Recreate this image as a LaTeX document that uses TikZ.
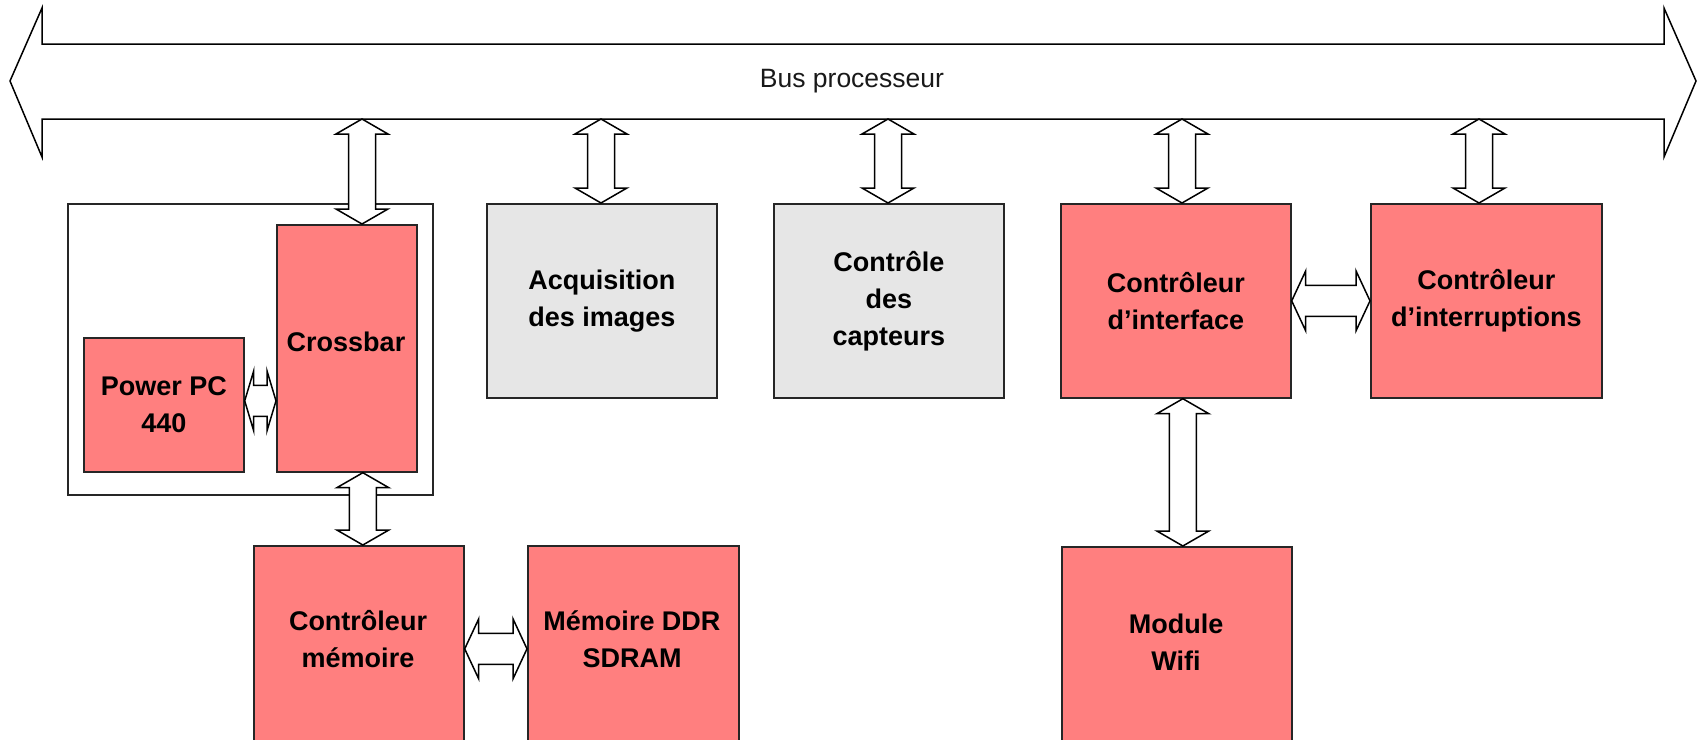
\documentclass[tikz,border=0pt]{standalone}
\usepackage{fontspec}
\setmainfont{Liberation Sans}
\usetikzlibrary{calc}
\definecolor{redc}{HTML}{FF7F7F}
\definecolor{grayc}{HTML}{E6E6E6}
\newcommand\boxfont{\bfseries\fontsize{27}{37}\selectfont}
% vertical double block arrow between two points with the same x (top, bottom)
\newcommand\vbarrow[2]{%
  \draw[blockarrow] let \p1=#1, \p2=#2 in
    (\x1,\y1) -- (\x1+26pt,\y1-15pt) -- (\x1+13.5pt,\y1-15pt) -- (\x1+13.5pt,\y2+15pt)
    -- (\x1+26pt,\y2+15pt) -- (\x1,\y2) -- (\x1-26pt,\y2+15pt) -- (\x1-13.5pt,\y2+15pt)
    -- (\x1-13.5pt,\y1-15pt) -- (\x1-26pt,\y1-15pt) -- cycle;}
% horizontal double block arrow: head length, left point, right point
\newcommand\hbarrow[3]{%
  \draw[blockarrow] let \p1=#2, \p2=#3 in
    (\x1,\y1) -- (\x1+#1,\y1+30pt) -- (\x1+#1,\y1+15.5pt) -- (\x2-#1,\y1+15.5pt)
    -- (\x2-#1,\y1+30pt) -- (\x2,\y1) -- (\x2-#1,\y1-30pt) -- (\x2-#1,\y1-15.5pt)
    -- (\x1+#1,\y1-15.5pt) -- (\x1+#1,\y1-30pt) -- cycle;}
\tikzset{
  basebox/.style={draw=black!85, line width=1.7pt, anchor=north west, inner sep=0pt,
    align=center, font=\boxfont, text=black},
  redbox/.style={basebox, fill=redc},
  graybox/.style={basebox, fill=grayc},
  boxtext/.style={align=center, font=\boxfont, inner sep=0pt, text=black},
  blockarrow/.style={draw=black, line width=1.5pt, fill=white, line join=miter},
  framebox/.style={draw=black!85, line width=1.8pt, anchor=north west, inner sep=0pt},
  busstyle/.style={draw=black, line width=1.5pt, fill=white, line join=miter}
}
\begin{document}
\begin{tikzpicture}[x=1pt,y=-1pt]
\useasboundingbox (0,0) rectangle (1699,739);
\fill[white] (0,0) rectangle (1699,739);

% processor bus
\draw[busstyle] (10,81) -- (42,8) -- (42,44) -- (1664,44) -- (1664,8) -- (1696,81)
  -- (1664,157) -- (1664,119) -- (42,119) -- (42,157) -- cycle;
\node[font=\fontsize{26.5}{30}\selectfont, inner sep=0pt, text=black!90] (bus) at (852,81) {Bus processeur};
\coordinate (b1) at (362,119);
\coordinate (b2) at (601,119);
\coordinate (b3) at (888,119);
\coordinate (b4) at (1182,119);
\coordinate (b5) at (1479,119);

% blocks
\node[framebox, minimum width=365, minimum height=291] (frame) at (67,203) {};
\node[redbox, minimum width=140, minimum height=247] (cb) at (276,224) {};
\node[boxtext] (cbt) at (346,342) {Crossbar};
\node[redbox, minimum width=160, minimum height=134] (ppc) at (83,337) {Power PC\\440};
\node[graybox, minimum width=230, minimum height=194] (acq) at (486,203) {Acquisition\\des images};
\node[graybox, minimum width=230, minimum height=194] (capt) at (773,203) {Contrôle\\des\\capteurs};
\node[redbox, minimum width=230, minimum height=194] (intf) at (1060,203) {Contrôleur\\d’interface};
\node[redbox, minimum width=231, minimum height=194] (irq) at (1370,203) {Contrôleur\\d’interruptions};
\node[redbox, minimum width=210, minimum height=230] (mem) at (253,545) {};
\node[boxtext] (memt) at (358,639) {Contrôleur\\mémoire};
\node[redbox, minimum width=211, minimum height=230] (ddr) at (527,545) {};
\node[boxtext] (ddrt) at (632,639) {Mémoire DDR\\SDRAM};
\node[redbox, minimum width=230, minimum height=230] (wifi) at (1061,546) {};
\node[boxtext] (wifit) at (1176,642) {Module\\Wifi};

% connectors
\vbarrow{(b1)}{(b1 |- cb.north)}
\vbarrow{(b2)}{(b2 |- acq.north)}
\vbarrow{(b3)}{(b3 |- capt.north)}
\vbarrow{(b4)}{(b4 |- intf.north)}
\vbarrow{(b5)}{(b5 |- irq.north)}

\coordinate (c1) at ([xshift=16pt]cb.south);
\vbarrow{(c1)}{(c1 |- mem.north)}
\coordinate (w1) at ([xshift=7pt]intf.south);
\vbarrow{(w1)}{(w1 |- wifi.north)}

\coordinate (pA) at ([yshift=4pt]ppc.east);
\coordinate (pB) at (pA -| cb.west);
\hbarrow{9pt}{(pA)}{(pB)}
\coordinate (mA) at ([yshift=12pt]mem.east);
\coordinate (mB) at (mA -| ddr.west);
\hbarrow{14pt}{(mA)}{(mB)}
\coordinate (iA) at (intf.east);
\coordinate (iB) at (iA -| irq.west);
\hbarrow{14pt}{(iA)}{(iB)}
\end{tikzpicture}
\end{document}
